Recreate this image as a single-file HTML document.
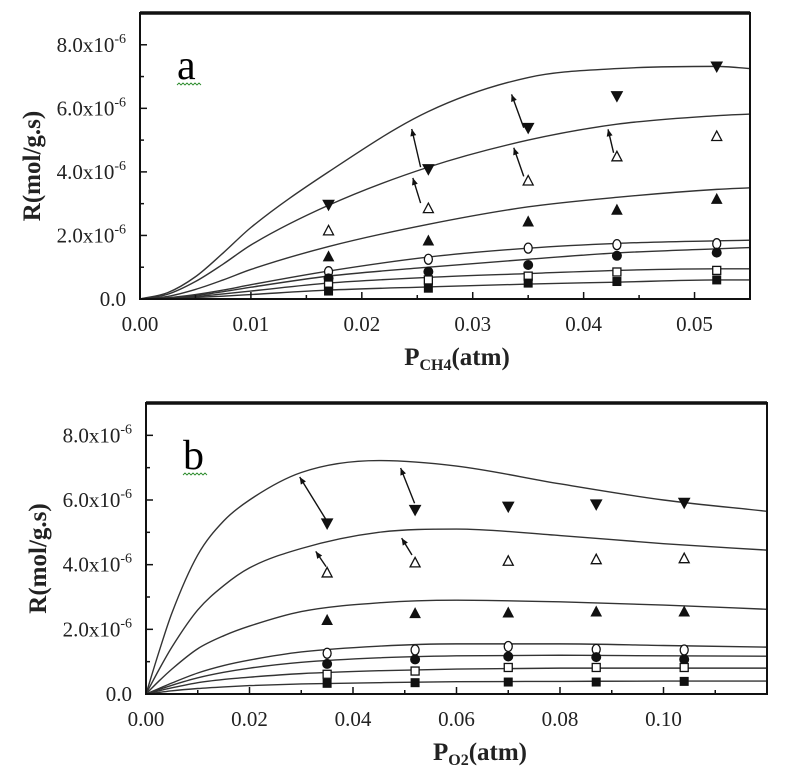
<!DOCTYPE html>
<html><head><meta charset="utf-8"><style>
body{margin:0;background:#fff;}
svg{display:block;font-family:"Liberation Serif",serif;}
</style></head><body>
<svg id="chart" width="808" height="780" viewBox="0 0 808 780"></svg>
<script>
// ---- Panel a data ----
const aPoints = [0.017, 0.026, 0.035, 0.043, 0.052];
const aSeries = [
  [2.95, 4.07, 5.37, 6.37, 7.30],
  [2.16, 2.86, 3.73, 4.49, 5.13],
  [1.34, 1.84, 2.44, 2.81, 3.15],
  [0.86, 1.25, 1.60, 1.71, 1.74],
  [0.65, 0.86, 1.07, 1.36, 1.46],
  [0.44, 0.60, 0.72, 0.85, 0.90],
  [0.25, 0.34, 0.50, 0.55, 0.60]
];
const aCurveX = [0, 0.0025, 0.005, 0.0075, 0.01, 0.017, 0.026, 0.035, 0.043, 0.052, 0.055];
const aCurves = [
  [0, 0.2, 0.7, 1.45, 2.25, 4.0, 5.9, 6.97, 7.25, 7.32, 7.25],
  [0, 0.15, 0.55, 1.1, 1.7, 2.95, 4.15, 5.0, 5.5, 5.77, 5.82],
  [0, 0.08, 0.3, 0.6, 0.93, 1.65, 2.35, 2.9, 3.2, 3.45, 3.5],
  [0, 0.04, 0.14, 0.28, 0.45, 0.88, 1.32, 1.6, 1.75, 1.83, 1.85],
  [0, 0.03, 0.11, 0.23, 0.37, 0.72, 1.0, 1.25, 1.45, 1.58, 1.62],
  [0, 0.02, 0.08, 0.16, 0.25, 0.5, 0.68, 0.8, 0.9, 0.95, 0.95],
  [0, 0.01, 0.05, 0.09, 0.14, 0.28, 0.38, 0.47, 0.53, 0.6, 0.6]
];
const aArrows = [[0.0253,4.15,0.0245,5.35],[0.0253,3.02,0.0246,3.81],[0.0346,5.39,0.0335,6.44],[0.0346,3.86,0.0337,4.76],[0.0427,4.6,0.0422,5.34]];
const aXTicks = ["0.00","0.01","0.02","0.03","0.04","0.05"];
// ---- Panel b data ----
const bPoints = [0.035, 0.052, 0.070, 0.087, 0.104];
const bSeries = [
  [5.26, 5.68, 5.78, 5.85, 5.90],
  [3.76, 4.07, 4.12, 4.17, 4.20],
  [2.29, 2.50, 2.52, 2.55, 2.55],
  [1.26, 1.36, 1.47, 1.38, 1.36],
  [0.93, 1.07, 1.16, 1.14, 1.07],
  [0.61, 0.71, 0.82, 0.82, 0.82],
  [0.33, 0.35, 0.37, 0.37, 0.39]
];
const bCurveX = [0, 0.0025, 0.005, 0.01, 0.015, 0.02, 0.03, 0.045, 0.06, 0.08, 0.1, 0.12];
const bCurves = [
  [0, 1.3, 2.5, 4.3, 5.35, 6.0, 6.85, 7.22, 7.05, 6.5, 6.0, 5.65],
  [0, 0.75, 1.45, 2.6, 3.35, 3.9, 4.5, 5.0, 5.1, 4.9, 4.65, 4.45],
  [0, 0.4, 0.77, 1.4, 1.8, 2.1, 2.55, 2.82, 2.9, 2.85, 2.75, 2.62],
  [0, 0.17, 0.34, 0.65, 0.88, 1.05, 1.3, 1.48, 1.55, 1.55, 1.5, 1.45],
  [0, 0.14, 0.27, 0.5, 0.67, 0.8, 0.98, 1.12, 1.18, 1.2, 1.18, 1.17],
  [0, 0.1, 0.19, 0.35, 0.45, 0.52, 0.63, 0.72, 0.77, 0.8, 0.8, 0.8],
  [0, 0.05, 0.1, 0.17, 0.22, 0.26, 0.31, 0.35, 0.38, 0.39, 0.4, 0.4]
];
const bArrows = [[0.0348,5.39,0.0297,6.71],[0.0519,5.9,0.0492,6.99],[0.0348,3.94,0.0328,4.41],[0.0514,4.3,0.0494,4.82]];
const bXTicks = ["0.00","0.02","0.04","0.06","0.08","0.10"];
const yTicks = ["0.0","2.0x10","4.0x10","6.0x10","8.0x10"];
const markerTypes = ["tri-down","tri-up-open","tri-up","circle-open","circle","square-open","square"];

const NS = "http://www.w3.org/2000/svg";
const svg = document.getElementById('chart');
function mk(tag, attrs, parent){const e=document.createElementNS(NS,tag);for(const k in attrs)e.setAttribute(k,attrs[k]);(parent||svg).appendChild(e);return e;}

function monotonePath(pts){
  const n=pts.length, dx=[], m=[], t=new Array(n);
  for(let i=0;i<n-1;i++){dx.push(pts[i+1][0]-pts[i][0]); m.push((pts[i+1][1]-pts[i][1])/dx[i]);}
  t[0]=m[0]; t[n-1]=m[n-2];
  for(let i=1;i<n-1;i++){ t[i] = (m[i-1]*m[i]<=0)?0:(m[i-1]+m[i])/2; }
  for(let i=0;i<n-1;i++){
    if(m[i]===0){t[i]=0;t[i+1]=0;continue;}
    const a=t[i]/m[i], b=t[i+1]/m[i], s=a*a+b*b;
    if(s>9){const k=3/Math.sqrt(s);t[i]=k*a*m[i];t[i+1]=k*b*m[i];}
  }
  let d=`M${pts[0][0]},${pts[0][1]}`;
  for(let i=0;i<n-1;i++){
    const h=dx[i]/3;
    d+=` C${pts[i][0]+h},${pts[i][1]+t[i]*h} ${pts[i+1][0]-h},${pts[i+1][1]-t[i+1]*h} ${pts[i+1][0]},${pts[i+1][1]}`;
  }
  return d;
}

function panel(cfg){
  const g = mk('g',{});
  
  
  const sx = v => cfg.x0 + v / cfg.xmax * (cfg.x1 - cfg.x0);
  const sy = v => cfg.y0 - v / 9 * (cfg.y0 - cfg.ytop);
  cfg.curves.forEach((c,i)=>{
    const pts = cfg.curveX.map((x,j)=>[sx(x), sy(c[j])]);
    const p = mk('path',{d:monotonePath(pts), fill:'none', stroke:'#333', 'stroke-width':1.4},g);
    
    
  });
  cfg.arrows.forEach((a,i)=>{
    const x1=sx(a[0]),y1=sy(a[1]),x2=sx(a[2]),y2=sy(a[3]);
    const ang=Math.atan2(y2-y1,x2-x1);
    const l = mk('line',{x1,y1,x2,y2,stroke:'#111','stroke-width':1.4},g);
    
    
    const h=7,w=3;
    const bx=x2-h*Math.cos(ang),by=y2-h*Math.sin(ang);
    const hd = mk('polygon',{points:`${x2},${y2} ${bx+w*Math.sin(ang)},${by-w*Math.cos(ang)} ${bx-w*Math.sin(ang)},${by+w*Math.cos(ang)}`,fill:'#111'},g);
    
    
  });
  cfg.series.forEach((s,i)=>{
    const t = markerTypes[i];
    s.forEach((v,j)=>{
      const x=sx(cfg.points[j]), y=sy(v);
      let e;
      const open = t.includes('open');
      const style = open?{fill:'#fff',stroke:'#111','stroke-width':1.3}:{fill:'#111',stroke:'#111','stroke-width':1};
      if(t.startsWith('tri-down')) e=mk('polygon',Object.assign({points:`${x-5.5},${y-5} ${x+5.5},${y-5} ${x},${y+5}`},style),g);
      else if(t.startsWith('tri-up')) e=mk('polygon',Object.assign({points:`${x-5},${y+4.5} ${x+5},${y+4.5} ${x},${y-5}`},style),g);
      else if(t.startsWith('circle')) e=mk('ellipse',Object.assign({cx:x,cy:y,rx:open?4:4.5,ry:open?5:4.5},style),g);
      else e=mk('rect',Object.assign({x:x-4,y:y-4,width:8,height:8},style),g);
      
      
    });
  });
  const fr = mk('rect',{x:cfg.x0,y:cfg.ytop,width:cfg.x1-cfg.x0,height:cfg.y0-cfg.ytop,fill:'none',stroke:'#111','stroke-width':2},g);
  
  
  mk('line',{x1:cfg.x0,y1:cfg.ytop,x2:cfg.x1,y2:cfg.ytop,stroke:'#111','stroke-width':3.5},g);
  for(let k=0;k<=9;k++){
    const y=sy(k);
    const major = k%2===0;
    mk('line',{x1:cfg.x0,y1:y,x2:cfg.x0+(major?7:4),y2:y,stroke:'#111','stroke-width':1.5},g);
  }
  yTicks.forEach((t,k)=>{
    const y=sy(k*2);
    const tx = mk('text',{x:cfg.x0-14,y:y+7,'text-anchor':'end','font-size':21,fill:'#222'},g);
    
    
    tx.textContent=t;
    if(k>0){const ts=mk('tspan',{dy:-9,'font-size':14},tx);ts.textContent='-6';}
  });
  const step = cfg.xmax===0.055?0.01:0.02;
  for(let k=0;k*step/2<=cfg.xmax+1e-9;k++){
    const x=sx(k*step/2);
    mk('line',{x1:x,y1:cfg.y0,x2:x,y2:cfg.y0-(k%2===0?7:4),stroke:'#111','stroke-width':1.5},g);
  }
  cfg.xTicks.forEach((t,k)=>{
    const tx = mk('text',{x:sx(k*step),y:cfg.y0+32,'text-anchor':'middle','font-size':21,fill:'#222'},g);
    
    
    tx.textContent=t;
  });
  const yt = mk('text',{x:0,y:0,transform:`translate(${cfg.x0-100},${(cfg.y0+cfg.ytop)/2+10}) rotate(-90)`,'text-anchor':'middle','font-size':25,'font-weight':'bold',fill:'#222'},g);
  
  
  yt.textContent='R(mol/g.s)';
  const xt = mk('text',{x:cfg.xtitleX,y:cfg.y0+66,'text-anchor':'middle','font-size':25,'font-weight':'bold',fill:'#222'},g);
  
  
  xt.textContent='P';
  const sub = mk('tspan',{dy:5,'font-size':16},xt); sub.textContent=cfg.sub;
  const rest = mk('tspan',{dy:-5,'font-size':25},xt); rest.textContent='(atm)';
  const lab = mk('text',{x:cfg.x0+37,y:cfg.ytop+66,'font-size':42,fill:'#000'},g);
  
  
  lab.textContent=cfg.label;
  const sq = mk('path',{d:`M${cfg.x0+37},${cfg.ytop+72} l2,-2 l2,2 l2,-2 l2,2 l2,-2 l2,2 l2,-2 l2,2 l2,-2 l2,2 l2,-2 l2,2`,fill:'none',stroke:'#2a8a2a','stroke-width':0.9},g);
  
  
}

panel({name:'panel-a',label:'a',x0:140,x1:750,xmax:0.055,ytop:13,y0:299,points:aPoints,series:aSeries,curveX:aCurveX,curves:aCurves,arrows:aArrows,xTicks:aXTicks,sub:'CH4',xtitleX:457});
panel({name:'panel-b',label:'b',x0:146,x1:767,xmax:0.12,ytop:403,y0:694,points:bPoints,series:bSeries,curveX:bCurveX,curves:bCurves,arrows:bArrows,xTicks:bXTicks,sub:'O2',xtitleX:480});
</script>
</body></html>
